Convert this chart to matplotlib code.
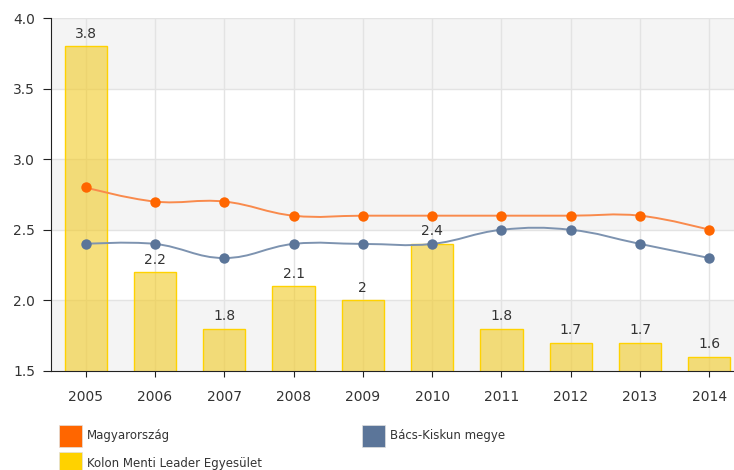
import numpy as np
import matplotlib
matplotlib.use("Agg")
import matplotlib.pyplot as plt
from matplotlib.path import Path
from matplotlib.patches import PathPatch, Rectangle

years = ["2005", "2006", "2007", "2008", "2009", "2010", "2011", "2012", "2013", "2014"]
kolon = [3.8, 2.2, 1.8, 2.1, 2.0, 2.4, 1.8, 1.7, 1.7, 1.6]
kolon_labels = ["3.8", "2.2", "1.8", "2.1", "2", "2.4", "1.8", "1.7", "1.7", "1.6"]
magyar = [2.8, 2.7, 2.7, 2.6, 2.6, 2.6, 2.6, 2.6, 2.6, 2.5]
bacs = [2.4, 2.4, 2.3, 2.4, 2.4, 2.4, 2.5, 2.5, 2.4, 2.3]

W, H = 734, 470


def spline_path(xs, ys, smoothing=1.5):
    # bezier path through the points (highcharts-like spline, no clamping)
    n = len(xs)
    left = [None] * n
    right = [None] * n
    denom = smoothing + 1
    for i in range(1, n - 1):
        lx = (smoothing * xs[i] + xs[i - 1]) / denom
        ly = (smoothing * ys[i] + ys[i - 1]) / denom
        rx = (smoothing * xs[i] + xs[i + 1]) / denom
        ry = (smoothing * ys[i] + ys[i + 1]) / denom
        corr = (ry - ly) * (rx - xs[i]) / (rx - lx) + ys[i] - ry
        left[i] = (lx, ly + corr)
        right[i] = (rx, ry + corr)
    verts = [(xs[0], ys[0])]
    codes = [Path.MOVETO]
    for i in range(1, n):
        c1 = right[i - 1] if right[i - 1] else (xs[i - 1], ys[i - 1])
        c2 = left[i] if left[i] else (xs[i], ys[i])
        verts += [c1, c2, (xs[i], ys[i])]
        codes += [Path.CURVE4] * 3
    return Path(verts, codes)


fig = plt.figure(figsize=(W / 100, H / 100), dpi=100)
ax = fig.add_axes([51 / W, (H - 371) / H, (744 - 51) / W, 353 / H])

x = np.arange(len(years))
ax.set_xlim(-0.5, len(years) - 0.5)
ax.set_ylim(1.5, 4.0)

# alternating bands + grid
for lo in [1.5, 2.5, 3.5]:
    ax.axhspan(lo, lo + 0.5, color="#f4f4f4", zorder=0, lw=0)
for yv in [2.0, 2.5, 3.0, 3.5, 4.0]:
    ax.axhline(yv, color="#e3e3e3", lw=1, zorder=0.5)
for xv in x:
    ax.axvline(xv, color="#e3e3e3", lw=1, zorder=0.5)

ax.bar(x, kolon, width=0.61, color="#f2cc2c", alpha=0.62, zorder=2, lw=0)
ax.bar(x, kolon, width=0.61, fill=False, edgecolor="#ffd200", lw=1, zorder=2.1)
for xi, v, lab in zip(x, kolon, kolon_labels):
    ax.annotate(lab, (xi, v), xytext=(0, 4), textcoords="offset points",
                ha="center", va="bottom", fontsize=10, color="#333333", zorder=5)

ax.add_patch(PathPatch(spline_path(list(x), magyar), fill=False, edgecolor="#f98a4c", lw=1.4, zorder=3))
ax.plot(x, magyar, "o", color="#ff6600", markersize=7.5, zorder=4, mec="none")
ax.add_patch(PathPatch(spline_path(list(x), bacs), fill=False, edgecolor="#7d93b0", lw=1.4, zorder=3))
ax.plot(x, bacs, "o", color="#5b7599", markersize=7.5, zorder=4, mec="none")

ax.set_xticks(x)
ax.set_xticklabels(years)
ax.set_yticks([1.5, 2.0, 2.5, 3.0, 3.5, 4.0])
ax.set_yticklabels(["1.5", "2.0", "2.5", "3.0", "3.5", "4.0"])
ax.tick_params(axis="x", length=4.5, pad=9, labelsize=10, labelcolor="#333333", color="#222222")
ax.tick_params(axis="y", length=5.5, pad=6, labelsize=10, labelcolor="#333333", color="#222222")
for s in ["top", "right"]:
    ax.spines[s].set_visible(False)
ax.spines["left"].set_color("#222222")
ax.spines["bottom"].set_color("#222222")

# legend drawn by hand
legend = [("Magyarország", "#ff6600", 59, 425, 87),
          ("Bács-Kiskun megye", "#5b7599", 362, 425, 390),
          ("Kolon Menti Leader Egyesület", "#ffd200", 59, 452, 87)]
for name, col, sx, sy, tx in legend:
    fig.add_artist(Rectangle((sx / W, 1 - (sy + 22) / H), 23 / W, 22 / H,
                             transform=fig.transFigure, facecolor=col,
                             edgecolor="#e0e0e0", lw=0.5))
    fig.text(tx / W, 1 - (sy + 11) / H, name, fontsize=8.5, color="#333333",
             ha="left", va="center")

fig.savefig("out.png", dpi=100)
